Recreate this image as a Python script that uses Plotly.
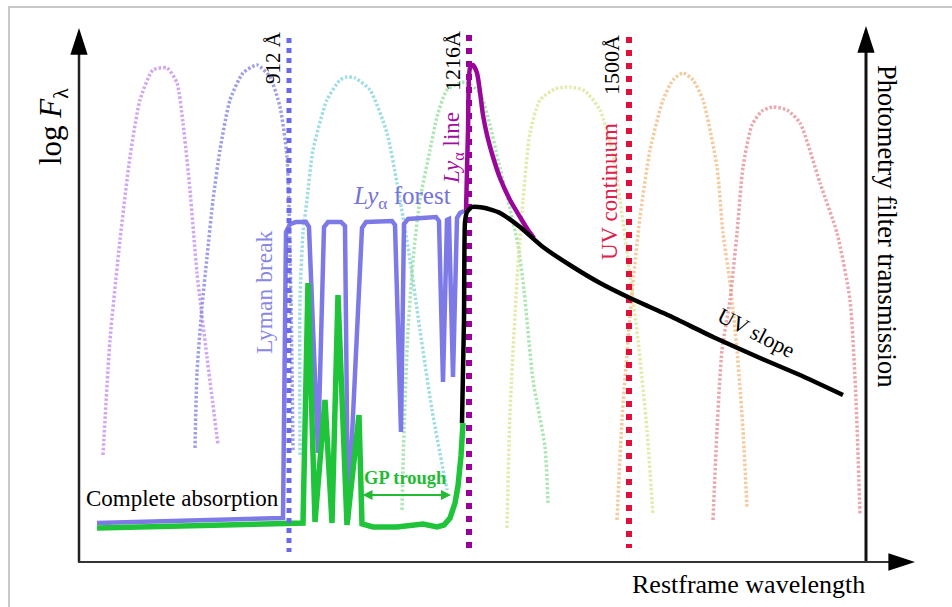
import plotly.graph_objects as go

# ---- schematic data (diagram units: x = restframe wavelength position, y = height, screen-like) ----
# Lyman-alpha forest spectrum (blue)
forest_x = [97, 283, 286, 290, 296, 306, 309, 318, 324, 328, 341, 345, 348, 362, 366, 392, 395, 401, 404, 408,
            436, 439, 443, 447, 449, 453, 457, 460, 464]
forest_y = [523, 518, 232, 224, 222, 222, 227, 453, 227, 222, 222, 226, 520, 228, 222, 221, 225, 432, 224, 219,
            217, 221, 382, 220, 219, 377, 218, 213, 211]
# Gunn-Peterson trough spectrum (green)
gp_x = [97, 303, 308, 315, 325, 332, 338, 347, 359, 362, 373, 397, 423, 437, 444, 450, 455, 458, 461, 463]
gp_y = [528, 523, 283, 522, 400, 523, 295, 525, 415, 524, 527, 527, 524, 527, 525, 518, 503, 486, 456, 423]
# UV continuum (black)
cont_x = [462, 464, 465, 467, 472, 485, 500, 520, 543, 573, 600, 630, 670, 713, 760, 800, 843]
cont_y = [423, 320, 222, 212, 207, 208, 213, 227, 247, 267, 283, 298, 316, 337, 358, 375, 395]
# Lyman-alpha emission line (purple)
lya_x = [466, 468, 470, 473, 477, 480, 483, 487, 493, 500, 510, 520, 528, 534]
lya_y = [212, 130, 68, 65, 73, 92, 115, 135, 157, 178, 200, 217, 230, 238]

# photometric filter transmission curves
f1_x = [103, 110, 120, 130, 140, 153, 167, 177, 183, 190, 197, 207, 218]
f1_y = [455, 340, 240, 157, 100, 70, 68, 83, 123, 190, 273, 357, 445]
f2_x = [195, 197, 202, 207, 213, 220, 230, 243, 257, 270, 280, 287, 291, 293]
f2_y = [448, 373, 307, 257, 200, 150, 100, 73, 65, 77, 107, 157, 300, 450]
f3_x = [300, 300, 303, 307, 313, 327, 340, 347, 355, 370, 387, 397, 403, 410, 420, 432, 447]
f3_y = [455, 300, 233, 200, 150, 100, 80, 77, 78, 90, 133, 183, 217, 260, 330, 410, 490]
f4_x = [402, 404, 408, 414, 420, 430, 437, 447, 465, 480, 490, 498, 508, 518, 524, 533, 545, 548]
f4_y = [510, 430, 330, 250, 200, 150, 117, 90, 82, 93, 125, 160, 200, 245, 290, 380, 447, 503]
f5_x = [507, 510, 517, 523, 530, 540, 555, 570, 585, 600, 612, 620, 628, 638, 647, 653]
f5_y = [528, 413, 280, 200, 133, 100, 89, 87, 91, 110, 150, 200, 260, 340, 430, 515]
f6_x = [617, 622, 628, 633, 640, 650, 663, 673, 683, 693, 703, 717, 723, 730, 737, 743, 747]
f6_y = [520, 420, 340, 283, 217, 150, 100, 80, 73, 80, 100, 167, 233, 283, 350, 430, 508]
f7_x = [713, 717, 722, 730, 737, 743, 752, 762, 773, 787, 800, 820, 837, 850, 856, 860]
f7_y = [520, 430, 350, 300, 233, 167, 125, 111, 107, 110, 123, 183, 233, 300, 400, 515]

# reference wavelengths: 912 Å, 1216 Å, 1500 Å
ref_x = [289, 469, 629]
ref_top = [38, 35, 37]
ref_bot = [552, 548, 548]

fig = go.Figure()

filters = [
    (f1_x, f1_y, "rgba(198,145,235,0.8)"),
    (f2_x, f2_y, "rgba(135,135,225,0.8)"),
    (f3_x, f3_y, "rgba(135,212,220,0.8)"),
    (f4_x, f4_y, "rgba(145,222,155,0.75)"),
    (f5_x, f5_y, "rgba(222,228,150,0.8)"),
    (f6_x, f6_y, "rgba(240,190,135,0.8)"),
    (f7_x, f7_y, "rgba(228,145,155,0.8)"),
]
for fx, fy, col in filters:
    fig.add_trace(go.Scatter(x=fx, y=fy, mode="lines",
                             line=dict(color=col, width=3.5, dash="2.5px,2px", shape="spline", smoothing=0.6),
                             hoverinfo="skip", showlegend=False))

fig.add_trace(go.Scatter(x=forest_x, y=forest_y, mode="lines", line=dict(color="#7d7ae8", width=4.5), showlegend=False))
fig.add_trace(go.Scatter(x=gp_x, y=gp_y, mode="lines", line=dict(color="#1fc43a", width=5.5), showlegend=False))

ref_cols = ["#6a6ae6", "#990099", "#e0103c"]
ref_dash = ["5px,5px", "6px,7px", "6px,7px"]
ref_w = [5, 6, 6]
for i in range(3):
    fig.add_trace(go.Scatter(x=[ref_x[i], ref_x[i]], y=[ref_top[i], ref_bot[i]], mode="lines",
                             line=dict(color=ref_cols[i], width=ref_w[i], dash=ref_dash[i]), showlegend=False))

fig.add_trace(go.Scatter(x=lya_x, y=lya_y, mode="lines",
                         line=dict(color="#9a059a", width=4.5, shape="spline", smoothing=0.6), showlegend=False))
fig.add_trace(go.Scatter(x=cont_x, y=cont_y, mode="lines",
                         line=dict(color="black", width=4.5, shape="spline", smoothing=0.5), showlegend=False))

# axes frame with arrows
ax_x0, ax_y0 = 79, 562
ax_top_left, ax_top_right = 28, 26
ax_right_x, ax_end_x = 866, 915
fig.add_trace(go.Scatter(x=[ax_x0, ax_x0], y=[ax_y0, ax_top_left + 15], mode="lines",
                         line=dict(color="#222", width=2.5), showlegend=False))
fig.add_trace(go.Scatter(x=[ax_right_x, ax_right_x], y=[ax_y0, ax_top_right + 15], mode="lines",
                         line=dict(color="#111", width=3), showlegend=False))
fig.add_trace(go.Scatter(x=[ax_x0 - 1, ax_end_x - 15], y=[ax_y0, ax_y0], mode="lines",
                         line=dict(color="#333", width=2), showlegend=False))
fig.add_trace(go.Scatter(x=[ax_x0, ax_right_x, ax_end_x], y=[ax_top_left, ax_top_right, ax_y0], mode="markers",
                         marker=dict(symbol="arrow", size=28, color="black", angle=[0, 0, 90], line=dict(width=0)),
                         showlegend=False, hoverinfo="skip"))

serif = "Liberation Serif"
def ann(x, y, text, size, color="black", angle=0, **kw):
    fig.add_annotation(x=x, y=y, xref="x", yref="y", text=text, showarrow=False, textangle=angle,
                       font=dict(family=serif, size=size, color=color), xanchor="center", yanchor="middle", **kw)

ann(53, 127, "log <i>F</i><sub>λ</sub>", 31, angle=-90)
ann(273, 58, "912 Å", 21, angle=-90)
ann(452, 61, "1216Å", 22, angle=-90)
ann(453, 148, "<i>Ly</i><sub>α</sub> line", 23, color="#a010a0", angle=-90)
ann(611, 65, "1500Å", 22, angle=-90)
ann(609, 192, "UV continuum", 23, color="#e0204a", angle=-90)
ann(264, 292, "Lyman break", 23.5, color="#8a88e4", angle=-90)
ann(402, 197, "<i>Ly</i><sub>α</sub> forest", 25, color="#7472dc")
ann(756, 332, "UV slope", 22, angle=27)
ann(182, 498, "Complete absorption", 23)
ann(405, 478, "<b>GP trough</b>", 18.5, color="#22bb33")
ann(887, 226, "Photometry filter transmission", 26.5, angle=90)
ann(748, 584, "Restframe wavelength", 26)

fig.add_annotation(x=451, y=495, ax=361, ay=495, xref="x", yref="y", axref="x", ayref="y", text="",
                   showarrow=True, arrowhead=2, arrowside="end+start", arrowwidth=2, arrowsize=1,
                   arrowcolor="#22bb33")

fig.add_shape(type="rect", xref="x", yref="y", x0=9, y0=7, x1=1100, y1=800,
              line=dict(color="#c8c8c8", width=2), layer="below")

fig.update_layout(
    width=952, height=607, margin=dict(l=0, r=0, t=0, b=0),
    paper_bgcolor="white", plot_bgcolor="white",
    xaxis=dict(range=[0, 952], visible=False, fixedrange=True),
    yaxis=dict(range=[607, 0], visible=False, fixedrange=True),
    font=dict(family=serif),
    showlegend=False,
)
fig.write_html("out.html")
